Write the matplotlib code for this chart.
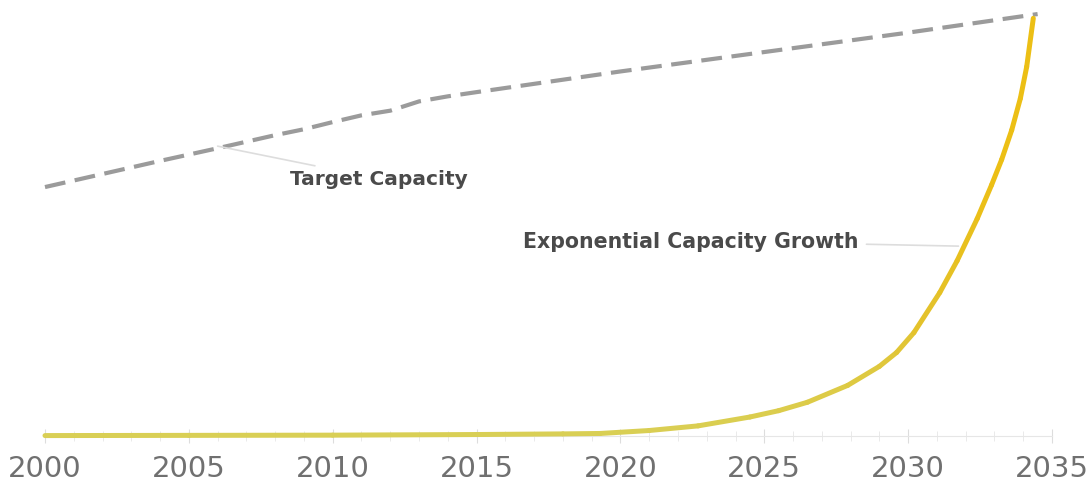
import numpy as np
import matplotlib.pyplot as plt
from matplotlib.collections import LineCollection
from matplotlib.colors import LinearSegmentedColormap
from matplotlib.ticker import MultipleLocator

# Target capacity (dashed grey)
target_years = [2000, 2002, 2004, 2006, 2008, 2009, 2010, 2011, 2012, 2013, 2014, 2015,
                2020, 2025, 2030, 2034.5]
target_vals = [59.0, 62.1, 65.2, 68.2, 71.3, 72.7, 74.4, 76.0, 77.1, 79.3, 80.5, 81.5,
               86.4, 91.0, 95.6, 100.0]

# Exponential capacity growth (yellow)
growth_years = [2000, 2005, 2010, 2015, 2018, 2019.3, 2021, 2022.7, 2024.5, 2025.5,
                2026.5, 2027.9, 2029.0, 2029.6, 2030.2, 2031.1, 2031.7, 2032.4, 2032.9,
                2033.25, 2033.6, 2033.9, 2034.12, 2034.35]
growth_vals = [0.1, 0.15, 0.2, 0.35, 0.5, 0.6, 1.3, 2.4, 4.5, 6.0,
               8.0, 12.0, 16.5, 19.8, 24.5, 34.0, 41.5, 51.5, 59.5,
               65.5, 72.5, 80.0, 87.5, 99.0]

W, H = 1089, 481
fig = plt.figure(figsize=(W / 100, H / 100), dpi=100)
ax = fig.add_axes([45 / W, (H - 437) / H, (1052 - 45) / W, 427 / H])
ax.set_xlim(2000, 2035)
ax.set_ylim(0, 101.2)

ax.plot(target_years, target_vals, color="#9b9b9b", lw=3.0, dashes=(5, 2.3),
        solid_capstyle="butt", clip_on=False, zorder=3)

# yellow line, a bit paler/olive near the baseline, golden at the top
pts = np.column_stack([growth_years, growth_vals]).reshape(-1, 1, 2)
segs = np.concatenate([pts[:-1], pts[1:]], axis=1)
cmap = LinearSegmentedColormap.from_list("gold", ["#d9cf55", "#e4c22a", "#ecbf15"])
lc = LineCollection(segs, cmap=cmap, linewidths=3.6, capstyle="round",
                    joinstyle="round", clip_on=False, zorder=4)
lc.set_array(np.array(growth_vals[:-1]) / 2 + np.array(growth_vals[1:]) / 2)
lc.set_clim(0, 60)
ax.add_collection(lc)

# annotations with faint leader lines
ax.annotate("Target Capacity", xy=(2006.0, 68.7), xytext=(2008.5, 61.0),
            fontsize=14.5, color="#4a4a4a", fontweight="bold",
            va="center", ha="left",
            arrowprops=dict(arrowstyle="-", color="#dddddd", lw=1.2,
                            shrinkA=2, shrinkB=0))
ax.annotate("Exponential Capacity Growth", xy=(2031.75, 45.0), xytext=(2016.6, 46.3),
            fontsize=14.8, color="#4a4a4a", fontweight="bold",
            va="center", ha="left",
            arrowprops=dict(arrowstyle="-", color="#dddddd", lw=1.2,
                            shrinkA=4, shrinkB=0))

for s in ["top", "right", "left"]:
    ax.spines[s].set_visible(False)
ax.spines["bottom"].set_color("#e6e6e6")
ax.set_yticks([])
ax.xaxis.set_major_locator(MultipleLocator(5))
ax.xaxis.set_minor_locator(MultipleLocator(1))
ax.tick_params(axis="x", which="major", direction="inout", length=10, color="#dddddd",
               labelsize=21, labelcolor="#707070", pad=8)
ax.tick_params(axis="x", which="minor", direction="inout", length=7, color="#e6e6e6")

fig.savefig("out.png", dpi=100)
